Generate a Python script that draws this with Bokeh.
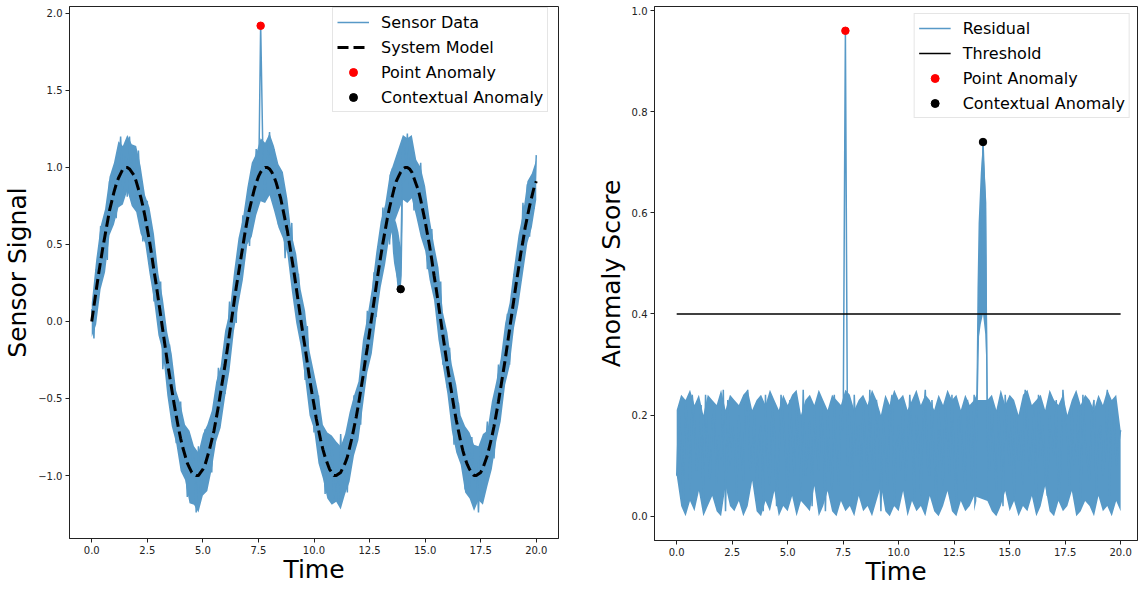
import numpy as np
from bokeh.plotting import figure
from bokeh.layouts import row
from bokeh.models import FixedTicker, CustomJSTickFormatter, Range1d
from bokeh.embed import file_html
from bokeh.resources import INLINE

# ---------------- data ----------------
time_start = 0.0
time_end = 20.0
n_samples = 201

# system model value at each sample (every 0.1 s), in hundredths
model_hundredths = [
    0, 10, 20, 30, 39, 48, 56, 64, 72, 78, 84, 89, 93, 96, 99, 100,
    100, 99, 97, 95, 91, 86, 81, 75, 68, 60, 52, 43, 33, 24, 14, 4,
    -6, -16, -26, -35, -44, -53, -61, -69, -76, -82, -87, -92, -95, -98, -99, -100,
    -100, -98, -96, -93, -88, -83, -77, -71, -63, -55, -46, -37, -28, -18, -8,
    2, 12, 22, 31, 40, 49, 58, 66, 73, 79, 85, 90, 94, 97, 99, 100,
    100, 99, 97, 94, 90, 85, 80, 73, 66, 59, 50, 41, 32, 22, 12, 2,
    -8, -17, -27, -37, -46, -54, -63, -70, -77, -83, -88, -92, -96, -98, -100, -100,
    -99, -98, -95, -92, -88, -82, -76, -69, -62, -54, -45, -36, -26, -17, -7,
    3, 13, 23, 33, 42, 51, 59, 67, 74, 80, 86, 91, 94, 97, 99, 100,
    100, 99, 97, 93, 89, 85, 79, 72, 65, 57, 49, 40, 30, 21, 11, 1,
    -9, -19, -29, -38, -47, -56, -64, -71, -78, -84, -89, -93, -96, -98, -100, -100,
    -99, -98, -95, -91, -87, -81, -75, -68, -60, -52, -43, -34, -25, -15, -5,
    5, 15, 25, 34, 44, 52, 61, 68, 75, 81, 87, 91,
]

# deviation of the sensor reading from the model at each sample, in hundredths
deviation_hundredths = [
    8, -21, 14, -3, 23, -17, 5, -24, 19, -9, 12, -22, 2, 24, -14, 7, -19, 21, -6, 16,
    -11, 25, -1, -23, 10, 18, -15, 4, -20, 13, -7, 22, -25, 9, -12, 20, -4, 15, -18, 1,
    24, -10, 6, -22, 17, -2, 11, -24, 19, -13, 3, 23, -16, 8, -21, 14, -5, 25, -8, 12,
    -19, 2, 21, -14, 9, -23, 16, -1, 20, -11, 5, -24, 13, -6, 22, -17,
    96,
    10, -20, 3, 24, -12, 18, -4, -22, 15, 7, -25, 11, -9, 23, -16, 1, 19, -13, 6, -21, 24, -2, 14,
    -18, 9, 22, -7, 12, -24, 17, -3, 20, -15, 4, -19, 25, -10, 8, -23, 13, -1, 21, -14,
    6, -22, 16, -8, 24, -12, 2, 19, -20, 11, -5, 23, -17, 7, -24, 15,
    -38, -55, -74, -62,
    18, -9, 22, -13, 5, -21, 14, -2, 24, -16, 10, -23, 3, 20, -11, 17, -6, 25, -19, 8,
    -14, 21, -1, -24, 12, 18, -8, 4, -20, 15, -12, 23, -3, 9, -25, 19, -16, 6, 22, -10,
    13, -21, 2, 24, -15, 11, -7, 20, -23, 5, 16, -18, 8, -12, 25, -4, 21, -20, 10, -14, 17,
]

# visible spread of the dense sensor trace around the model, every 0.2 s, in hundredths
# (None inside the contextual-anomaly window, which is described separately below)
spread_upper_hundredths = [
    12, 20, 23, 17, 22, 19, 24, 15, 21, 18, 23, 20, 14, 22, 24, 17, 21, 19, 23, 16,
    22, 20, 24, 18, 15, 23, 21, 19, 24, 17, 22, 14, 20, 23, 18, 21, 24, 19, 22, 16,
    23, 20, 17, 24, 21, 15, 22, 19, 24, 18, 21, 23, 16, 20, 24, 22, 17, 19, 23, 21,
    15, 24, 20, 18, 22, 23, 17, 21,
    None, None,
    22, 19, 24, 16, 21, 23, 18, 20, 24, 15, 22, 19, 23, 17, 21, 24, 20, 18, 22, 16,
    23, 21, 19, 24, 17, 20, 22, 18, 23, 15, 14,
]
spread_lower_hundredths = [
    -10, -22, -18, -24, -16, -21, -19, -23, -15, -22, -20, -24, -17, -21, -19, -23, -14, -22, -24, -18,
    -21, -16, -23, -20, -24, -17, -22, -19, -15, -23, -21, -24, -18, -20, -22, -16, -24, -21, -19, -23,
    -17, -22, -24, -19, -15, -21, -23, -18, -20, -24, -16, -22, -19, -23, -21, -17, -24, -20, -22, -18,
    -23, -19, -16, -24, -21, -20, -22, -18,
    None, None,
    -20, -23, -17, -21, -24, -19, -22, -16, -23, -20, -18, -24, -21, -15, -22, -19, -23, -17, -24, -20,
    -21, -18, -22, -16, -24, -19, -23, -21, -17, -20, -12,
]
# highest / lowest visible residual of the dense trace, every 0.2 s, in hundredths
residual_ceiling_hundredths = [
    21, 24, 23, 25, 22, 24, 20, 24, 23, 22, 25, 21, 24, 23, 22, 24, 25, 21, 23, 24,
    22, 25, 23, 21, 24, 22, 24, 25, 20, 23, 24, 22, 25, 23, 21, 24, 23, 22, 25, 24,
    21, 23, 24, 22, 25, 23, 20, 24, 22, 25, 23, 24, 21, 23, 25, 22, 24, 23, 21, 24,
    22, 25, 23, 24, 21, 24, 22, 23,
    None, None,
    23, 24, 21, 25, 22, 24, 23, 20, 24, 25, 22, 23, 24, 21, 25, 23, 22, 24, 20, 23,
    25, 22, 24, 23, 21, 24, 22, 25, 23, 24, 17,
]
residual_floor_hundredths = [
    8, 2, 0, 3, 1, 5, 0, 2, 4, 1, 0, 6, 2, 1, 3, 0, 2, 7, 1, 0,
    3, 1, 5, 0, 2, 1, 4, 0, 3, 2, 1, 6, 0, 2, 5, 1, 0, 3, 1, 2,
    0, 4, 1, 2, 0, 3, 6, 1, 0, 2, 1, 5, 0, 3, 1, 2, 0, 4, 1, 0,
    2, 5, 1, 0, 3, 1, 2, 4,
    None, None,
    3, 1, 0, 2, 5, 1, 3, 0, 2, 1, 4, 0, 2, 6, 1, 0, 3, 1, 2, 5,
    0, 1, 3, 2, 0, 4, 1, 2, 0, 3, 1,
]

# contextual-anomaly window, finer detail
context_window_times = [13.4, 13.5, 13.55, 13.6, 13.7, 13.8, 13.9, 13.95, 14.0]
context_sensor_top = [0.95, 1.00, 0.72, 0.68, 0.64, 0.58, 0.48, 0.55, 1.18]
context_sensor_bottom = [0.52, 0.58, 0.45, 0.38, 0.30, 0.24, 0.21, 0.30, 0.76]
context_residual_top = [0.23, 0.24, 0.45, 0.58, 0.68, 0.74, 0.66, 0.62, 0.24]
context_residual_bottom = [0.01, 0.03, 0.30, 0.35, 0.38, 0.40, 0.36, 0.30, 0.02]

point_anomaly_time = [7.6]
point_anomaly_signal = [1.92]
point_anomaly_score = [0.96]

context_anomaly_time_signal = [13.9]
context_anomaly_signal = [0.21]
context_anomaly_time_score = [13.8]
context_anomaly_score = [0.74]

threshold_times = [0.0, 20.0]
threshold_values = [0.4, 0.4]

x_ticks = [0.0, 2.5, 5.0, 7.5, 10.0, 12.5, 15.0, 17.5, 20.0]
left_y_ticks = [-1.0, -0.5, 0.0, 0.5, 1.0, 1.5, 2.0]
right_y_ticks = [0.0, 0.2, 0.4, 0.6, 0.8, 1.0]

# ---------------- derived series ----------------
t = np.linspace(time_start, time_end, n_samples)
model = np.array(model_hundredths) / 100.0
deviation = np.array(deviation_hundredths) / 100.0
sensor = model + deviation
residual = np.abs(sensor - model)

t_band = t[::2]
model_band = model[::2]
sensor_band_top = model_band + np.array(spread_upper_hundredths, dtype=float) / 100.0
sensor_band_bottom = model_band + np.array(spread_lower_hundredths, dtype=float) / 100.0
residual_band_top = np.array(residual_ceiling_hundredths, dtype=float) / 100.0
residual_band_bottom = np.array(residual_floor_hundredths, dtype=float) / 100.0

FONT = "DejaVu Sans"
TRACE_COLOR = "#5799c7"


def style(p, xlabel, ylabel, yticks):
    fmt = CustomJSTickFormatter(code="return tick.toFixed(1).replace('-', '\u2212');")
    p.xaxis.ticker = FixedTicker(ticks=x_ticks)
    p.yaxis.ticker = FixedTicker(ticks=yticks)
    p.xaxis.axis_label = xlabel
    p.yaxis.axis_label = ylabel
    for ax in (p.xaxis[0], p.yaxis[0]):
        ax.formatter = fmt
        ax.major_tick_out = 4
        ax.major_tick_in = 0
        ax.minor_tick_out = 0
        ax.minor_tick_in = 0
        ax.major_tick_line_color = "#222222"
        ax.axis_line_color = "#222222"
        ax.major_label_text_font = FONT
        ax.major_label_text_font_size = "10px"
        ax.major_label_text_color = "#222222"
        ax.major_label_standoff = 3
        ax.axis_label_text_font = FONT
        ax.axis_label_text_font_size = "25px"
        ax.axis_label_text_font_style = "normal"
        ax.axis_label_text_color = "black"
    p.xaxis.axis_label_standoff = -2
    p.yaxis.axis_label_standoff = 3
    p.xgrid.visible = False
    p.ygrid.visible = False
    p.outline_line_color = "#222222"
    p.outline_line_alpha = 1.0
    p.background_fill_color = "white"
    p.border_fill_color = "white"


def style_legend(p, location):
    lg = p.legend[0]
    lg.location = location
    lg.margin = 7
    lg.padding = 4
    lg.spacing = 5
    lg.label_height = 20
    lg.glyph_height = 20
    lg.glyph_width = 32
    lg.label_standoff = 12
    lg.label_text_font = FONT
    lg.label_text_font_size = "16px"
    lg.label_text_color = "black"
    lg.border_line_color = "#cccccc"
    lg.border_line_width = 1
    lg.background_fill_alpha = 0.85


# ---------------- left panel ----------------
p1 = figure(frame_width=489, frame_height=532, min_border_left=62, min_border_right=1,
            min_border_top=6, min_border_bottom=0,
            x_range=Range1d(-1.0, 21.0), y_range=Range1d(-1.409, 2.045),
            output_backend="svg", toolbar_location=None)
p1.varea(x=t_band, y1=sensor_band_bottom, y2=sensor_band_top, fill_color=TRACE_COLOR)
p1.varea(x=context_window_times, y1=context_sensor_bottom, y2=context_sensor_top,
         fill_color=TRACE_COLOR)
p1.line(t, sensor, line_color=TRACE_COLOR, line_width=1.5, legend_label="Sensor Data")
p1.line(t, model, line_color="black", line_width=3, line_dash="11 5",
        legend_label="System Model")
p1.scatter(point_anomaly_time, point_anomaly_signal, size=7.5, color="red",
           legend_label="Point Anomaly")
p1.scatter(context_anomaly_time_signal, context_anomaly_signal, size=7.5, color="black",
           legend_label="Contextual Anomaly")
style(p1, "Time", "Sensor Signal", left_y_ticks)
style_legend(p1, (263, 426))

# ---------------- right panel ----------------
p2 = figure(frame_width=483, frame_height=534, min_border_left=95, min_border_right=1,
            min_border_top=6, min_border_bottom=0,
            x_range=Range1d(-1.0, 20.76), y_range=Range1d(-0.048, 1.008),
            output_backend="svg", toolbar_location=None)
p2.varea(x=t_band, y1=residual_band_bottom, y2=residual_band_top, fill_color=TRACE_COLOR)
p2.varea(x=context_window_times, y1=context_residual_bottom, y2=context_residual_top,
         fill_color=TRACE_COLOR)
p2.line(t, residual, line_color=TRACE_COLOR, line_width=1.5, legend_label="Residual")
p2.line(threshold_times, threshold_values, line_color="black", line_width=1.5,
        legend_label="Threshold")
p2.scatter(point_anomaly_time, point_anomaly_score, size=7.5, color="red",
           legend_label="Point Anomaly")
p2.scatter(context_anomaly_time_score, context_anomaly_score, size=7.5, color="black",
           legend_label="Contextual Anomaly")
style(p2, "Time", "Anomaly Score", right_y_ticks)
style_legend(p2, "top_right")

layout = row(p1, p2)
open("out.html", "w").write(file_html(layout, INLINE))
